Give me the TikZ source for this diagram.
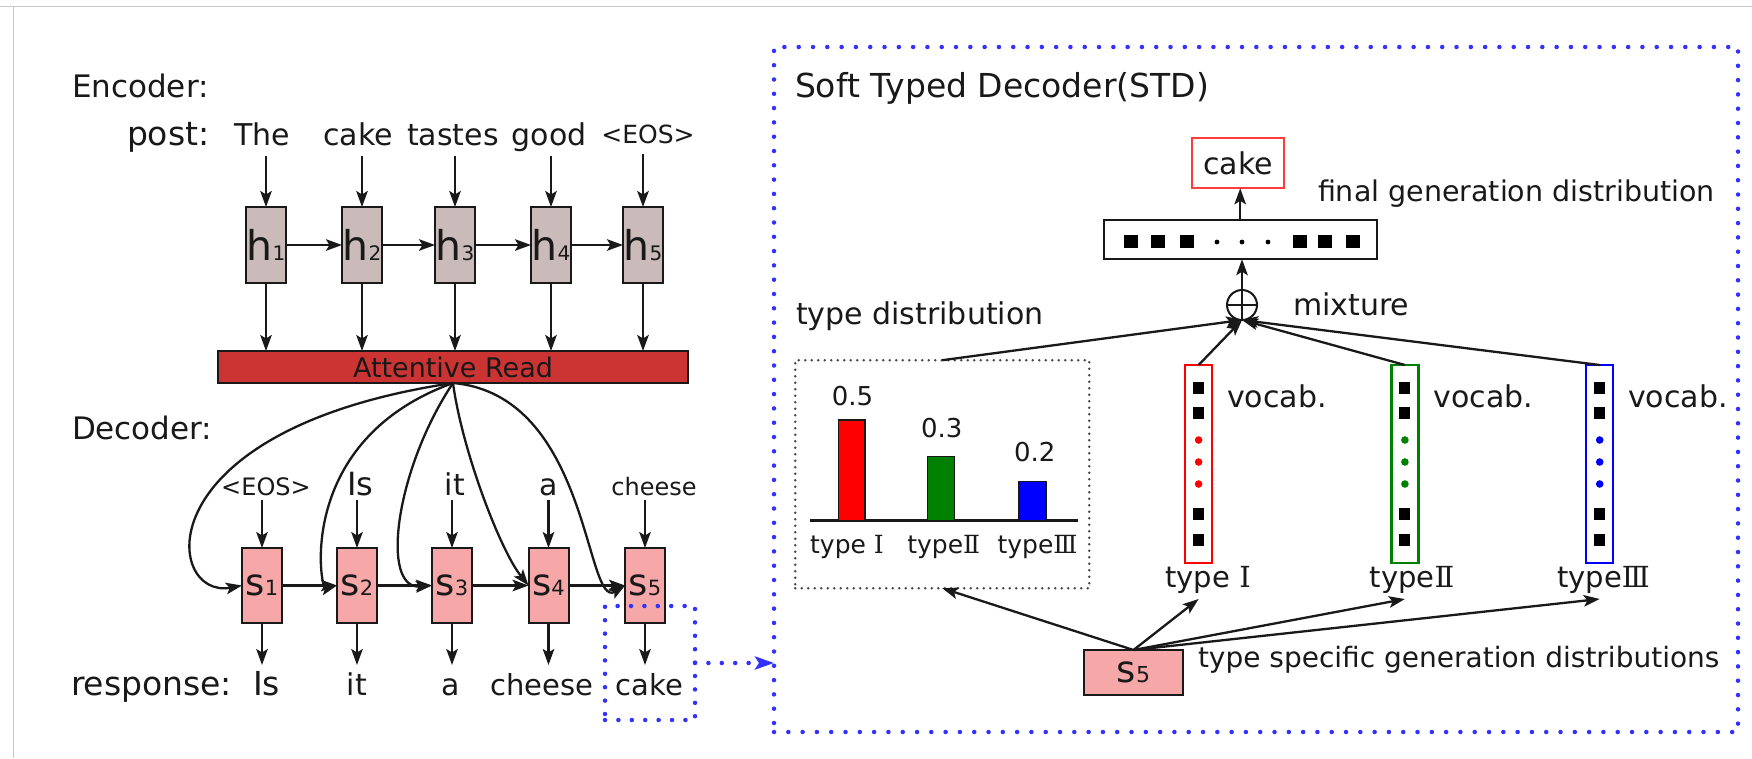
\documentclass[tikz,border=0pt]{standalone}
\usepackage{fontspec}
\setmainfont{DejaVu Sans}
\newfontfamily\numfont{DejaVu Serif}
\usetikzlibrary{arrows.meta,calc}

\definecolor{ink}{RGB}{25,25,25}
\definecolor{hfill}{RGB}{202,186,186}
\definecolor{sfill}{RGB}{246,168,168}
\definecolor{attfill}{RGB}{204,52,52}
\definecolor{dotblue}{RGB}{50,50,255}
\definecolor{framegray}{RGB}{200,200,200}
\definecolor{cakered}{RGB}{255,60,60}
\definecolor{typered}{RGB}{255,0,0}
\definecolor{typegreen}{RGB}{0,128,0}
\definecolor{typeblue}{RGB}{0,0,255}

\newcommand\fsz[1]{\fontsize{#1}{#1}\selectfont}
\newcommand\cellname[4]{{\fsz{#1}#2}{\fsz{#3}#4}}
\newcommand\rom[1]{{\numfont #1}}

\begin{document}
\begin{tikzpicture}[x=1pt,y=-1pt,
  every node/.style={text=ink, inner sep=0pt, outer sep=0pt},
  arr/.style={draw=ink, line width=2.3pt, -{Stealth[length=16pt,width=11.5pt,inset=3.5pt]}},
  cell/.style={draw=ink, line width=2pt, minimum width=40pt, minimum height=76pt},
  hcell/.style={cell, fill=hfill},
  scell/.style={cell, fill=sfill, minimum height=75pt},
  heading/.style={anchor=base west, font=\fsz{31}},
  inword/.style={anchor=base, text depth=10pt},
  decword/.style={anchor=base, text depth=5pt},
  outword/.style={anchor=base, text height=30pt},
  bluedots/.style={draw=dotblue, line width=4.5pt, line cap=round, dash pattern=on 0pt off 14.3pt},
  graydots/.style={draw=ink!80, line width=2.7pt, line cap=round, dash pattern=on 0pt off 6.5pt},
  vocabcol/.style={line width=2.5pt, minimum width=27pt, minimum height=198pt},
  caption/.style={anchor=base west},
]
\useasboundingbox (0,0) rectangle (1752,758);
\fill[white] (0,0) rectangle (1752,758);

% window frame lines
\draw[framegray, line width=1.5pt] (0,6.7) -- (1752,6.7);
\draw[framegray, line width=1.5pt] (13.6,6.7) -- (13.6,758);

% ---------------- encoder ----------------
\node[heading] (enc) at (72,97) {Encoder:};
\node[anchor=base west, font=\fsz{33}] (post) at (127,145.5) {post:};
\node[inword, font=\fsz{30}] (e1) at (262.5,145.5) {The};
\node[inword, font=\fsz{30}] (e2) at (358,145.5) {cake};
\node[inword, font=\fsz{30}] (e3) at (453,145.5) {tastes};
\node[inword, font=\fsz{30}] (e4) at (549,145.5) {good};
\node[inword, font=\fsz{25}] (e5) at (648,143.5) {<EOS>};

\node[hcell] (h1) at (266,245) {\cellname{41}{h}{20}{1}};
\node[hcell] (h2) at (362,245) {\cellname{41}{h}{20}{2}};
\node[hcell] (h3) at (455,245) {\cellname{41}{h}{20}{3}};
\node[hcell] (h4) at (551,245) {\cellname{41}{h}{20}{4}};
\node[hcell] (h5) at (643,245) {\cellname{41}{h}{20}{5}};

\node[draw=ink, line width=1.5pt, fill=attfill, minimum width=470pt,
      minimum height=32pt, font=\fsz{27}] (att) at (453,367) {Attentive Read};

\foreach \i in {1,...,5} {
  \draw[arr] (h\i.north |- e\i.south) -- (h\i.north);
  \draw[arr] (h\i.south) -- (h\i.south |- att.north);
}
\foreach \i/\j in {1/2,2/3,3/4,4/5} \draw[arr] (h\i) -- (h\j);

% ---------------- decoder ----------------
\node[heading] (dec) at (72,439) {Decoder:};
\node[decword, font=\fsz{24}] (d1) at (266,495) {<EOS>};
\node[decword, font=\fsz{32}] (d2) at (360.5,495) {Is};
\node[decword, font=\fsz{30}] (d3) at (455,495) {it};
\node[decword, font=\fsz{30}] (d4) at (549,495) {a};
\node[decword, font=\fsz{24}] (d5) at (654,495) {cheese};

\node[scell] (s1) at (262,585.5) {\cellname{37}{s}{21}{1}};
\node[scell] (s2) at (357,585.5) {\cellname{37}{s}{21}{2}};
\node[scell] (s3) at (452,585.5) {\cellname{37}{s}{21}{3}};
\node[scell] (s4) at (548.5,585.5) {\cellname{37}{s}{21}{4}};
\node[scell] (s5) at (645,585.5) {\cellname{37}{s}{21}{5}};

\node[anchor=base west, font=\fsz{33}] (resp) at (71,695) {response:};
\node[outword, font=\fsz{33}] (r1) at (266.6,695) {Is};
\node[outword, font=\fsz{30}] (r2) at (357,695) {it};
\node[outword, font=\fsz{30}] (r3) at (451,695) {a};
\node[outword, font=\fsz{29}] (r4) at (542,695) {cheese};
\node[outword, font=\fsz{29}] (r5) at (649.6,695) {cake};

\foreach \i in {1,...,5} {
  \draw[arr] (s\i.north |- d\i.south) -- (s\i.north);
  \draw[arr] (s\i.south) -- (s\i.south |- r\i.north);
}
\foreach \i/\j in {1/2,2/3,3/4,4/5} \draw[arr] (s\i) -- (s\j);

% attention fan from the read layer into every decoder state
\draw[arr] (att.south) .. controls (140,430) and (165,600) .. (s1.west);
\draw[arr] (att.south) .. controls (295,440) and (320,590) .. (s2.west);
\draw[arr] (att.south) .. controls (395,470) and (380,590) .. (s3.west);
\draw[arr] (att.south) .. controls (462,450) and (500,550) .. (s4.west);
\draw[arr] (att.south) .. controls (590,395) and (585,610) .. (s5.west);

% ---------------- soft typed decoder ----------------
\node[bluedots, minimum width=964pt, minimum height=685pt] (std) at (1256,389.5) {};
\node[bluedots, dash pattern=on 0pt off 13.4pt, minimum width=90pt, minimum height=114pt] (sel) at (650,663) {};
\draw[dotblue, line width=4.5pt, line cap=round, dash pattern=on 0pt off 13.4pt,
      -{Stealth[length=19pt,width=13pt,inset=4pt]}] (sel.east) -- (sel.east -| std.west);

\node[anchor=base west, font=\fsz{33}] (title) at (795,97) {Soft Typed Decoder(STD)};

\node[draw=cakered, line width=2pt, minimum width=92pt, minimum height=50pt,
      font=\fsz{30}] (out) at (1238,163.3) {cake};
\node[caption, font=\fsz{28.5}] (fgd) at (1318,201.5) {final generation distribution};

\node[draw=ink, line width=2pt, minimum width=273pt, minimum height=39pt] (vec) at (1240.2,239.7) {};
\foreach \x in {1131,1157.5,1187,1299.5,1325,1352.5}
  \fill[black] ({\x-7},235.2) rectangle ++(14,13);
\foreach \x in {1217,1242,1268}
  \fill[black] (\x,242) circle[radius=2.4pt];

\node[draw=ink, line width=2pt, circle, minimum size=30pt] (mix) at (1242,305) {};
\draw[ink, line width=2pt] (mix.north) -- (mix.south) (mix.west) -- (mix.east);
\node[caption, font=\fsz{30}] (mixlab) at (1293,315) {mixture};

\draw[arr] (mix.north) -- (mix.north |- vec.south);
\draw[arr] (vec.north) -- (vec.north |- out.south);

% type distribution panel
\node[caption, font=\fsz{30}] (tdlab) at (796,324.5) {type distribution};
\node[graydots, minimum width=294pt, minimum height=228pt] (tdbox) at (942.2,474.2) {};
\draw[ink, line width=2.5pt] (810,520.7) -- (1078,520.7);
\draw[draw=ink, line width=1.5pt, fill=typered]   (838.3,420)   rectangle (865,520.7);
\draw[draw=ink, line width=1.5pt, fill=typegreen] (927.3,456.7) rectangle (954.3,520.7);
\draw[draw=ink, line width=1.5pt, fill=typeblue]  (1019,481.7)  rectangle (1046,520.7);
\node[anchor=base, font=\fsz{26}] (p1) at (852.5,405) {0.5};
\node[anchor=base, font=\fsz{26}] (p2) at (941.7,437.5) {0.3};
\node[anchor=base, font=\fsz{26}] (p3) at (1034.7,461) {0.2};
\node[anchor=base, font=\fsz{25}] (b1) at (847,553) {type \rom{Ⅰ}};
\node[anchor=base, font=\fsz{25}] (b2) at (943.7,553) {type\rom{Ⅱ}};
\node[anchor=base, font=\fsz{25}] (b3) at (1037.5,553) {type\rom{Ⅲ}};

% type specific vocabulary columns
\foreach \n/\x/\c in {1/1198.6/typered, 2/1404.9/typegreen, 3/1599.7/typeblue} {
  \node[vocabcol, draw=\c] (col\n) at (\x,464) {};
  \foreach \dy in {-76,-51,49.5,76}
    \fill[black] ({\x-5.5},{458+\dy}) rectangle ++(11,12);
  \foreach \dy in {-24,-2,20}
    \fill[\c] (\x,{464+\dy}) circle[radius=3.8pt];
  \node[caption, font=\fsz{30}] (voc\n) at ({\x+28.5},407) {vocab.};
}
\node[anchor=base, font=\fsz{29}, text depth=12pt] (tl1) at (1208,587) {type \rom{Ⅰ}};
\node[anchor=base, font=\fsz{29}, text depth=12pt] (tl2) at (1412,587) {type\rom{Ⅱ}};
\node[anchor=base, font=\fsz{29}, text depth=12pt] (tl3) at (1603.5,587) {type\rom{Ⅲ}};

\draw[arr] (tdbox.north) -- (mix.south);
\foreach \n in {1,2,3} \draw[arr] (col\n.north) -- (mix.south);

\node[draw=ink, line width=2pt, fill=sfill, minimum width=99pt, minimum height=45pt]
  (sr) at (1133.5,672.5) {\cellname{37}{s}{22}{5}};
\node[caption, font=\fsz{28}] (tsg) at (1198,667) {type specific generation distributions};

\draw[arr] (sr.north) -- (tdbox.south);
\foreach \n in {1,2,3} \draw[arr] (sr.north) -- (col\n.south |- tl\n.south);
\end{tikzpicture}
\end{document}
